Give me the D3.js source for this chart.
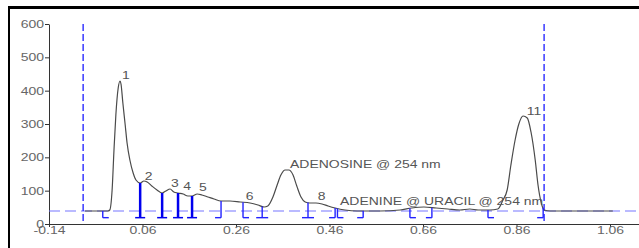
<!DOCTYPE html>
<html>
<head>
<meta charset="utf-8">
<script src="https://cdn.jsdelivr.net/npm/d3@7"></script>
<style>
  body { margin: 0; background: #fff; }
  svg { display: block; font-family: "Liberation Sans", Arial, sans-serif; }
</style>
</head>
<body>
<div id="graph"></div>
<script>
// chromatogram trace (time, signal)
const traceTime = [-0.063, -0.014, -0.010, -0.005, -0.001, 0.003, 0.008, 0.012, 0.014, 0.018,
  0.023, 0.027, 0.033, 0.040, 0.046, 0.055, 0.063, 0.070, 0.080, 0.091,
  0.102, 0.110, 0.119, 0.127, 0.136, 0.147, 0.157, 0.166, 0.177, 0.187,
  0.200, 0.213, 0.228, 0.247, 0.269, 0.290, 0.307, 0.320, 0.328, 0.339,
  0.348, 0.356, 0.365, 0.373, 0.382, 0.390, 0.399, 0.408, 0.418, 0.431,
  0.444, 0.457, 0.472, 0.493, 0.519, 0.568, 0.611, 0.636, 0.662, 0.688,
  0.713, 0.739, 0.760, 0.778, 0.803, 0.820, 0.831, 0.840, 0.848, 0.857,
  0.865, 0.874, 0.883, 0.891, 0.900, 0.906, 0.913, 0.919, 0.932, 1.066];
const traceSignal = [39, 39, 42, 102, 222, 327, 408, 429, 420, 363,
  297, 243, 192, 153, 132, 123, 129, 126, 114, 102,
  93, 99, 105, 96, 93, 90, 84, 84, 90, 87,
  81, 75, 69, 69, 66, 63, 57, 51, 54, 81,
  117, 147, 162, 162, 147, 114, 81, 66, 63, 63,
  60, 54, 48, 42, 39, 39, 42, 48, 51, 48,
  45, 42, 45, 42, 42, 45, 72, 102, 177, 252,
  300, 324, 318, 276, 192, 117, 63, 42, 39, 39];

const xTicks = [-0.14, 0.06, 0.26, 0.46, 0.66, 0.86, 1.06];
const xTickLabels = ["-0.14", "0.06", "0.26", "0.46", "0.66", "0.86", "1.06"];
const yTicks = [0, 100, 200, 300, 400, 500, 600];

// integration window and baseline
const windowTimes = [-0.067, 0.919];
const baselineLevel = 39;
const markFloor = 19;

// integration marks: valley drops and peak start/end
const dropTimes = [0.055, 0.102, 0.136, 0.166];
const markTimes = [-0.025, 0.228, 0.275, 0.316, 0.414, 0.472, 0.477, 0.532, 0.632, 0.679, 0.799, 0.917];
const markTypes = ["start", "end", "start", "both", "both", "end", "start", "end", "start", "end", "start", "end"];

// peak labels
const peakLabels = ["1", "2", "3", "4", "5", "6", "8", "11", "ADENOSINE @ 254 nm", "ADENINE @ URACIL @ 254 nm"];
const peakLabelTimes = [0.016, 0.065, 0.121, 0.147, 0.181, 0.281, 0.435, 0.882, 0.3755, 0.4825];
const peakLabelValues = [435, 133, 111, 102, 100, 72, 72, 327, 168, 57];

const W = 639, H = 248;
const stretch = 1.27;

const svg = d3.select("#graph")
  .append("svg")
    .attr("width", W)
    .attr("height", H);

// frame
svg.append("line").attr("x1", 8).attr("x2", W).attr("y1", 7.5).attr("y2", 7.5)
  .attr("stroke", "#000").attr("stroke-width", 3);
svg.append("line").attr("x1", 9).attr("x2", 9).attr("y1", 6).attr("y2", H)
  .attr("stroke", "#000").attr("stroke-width", 2);

const x = d3.scaleLinear().domain([-0.14, 1.122]).range([49, 639]);
const y = d3.scaleLinear().domain([0, 600]).range([224, 24]);

// axes
const yAxis = svg.append("g")
  .attr("transform", "translate(49,0)")
  .call(d3.axisLeft(y).tickValues(yTicks).tickSize(4).tickSizeOuter(0));
yAxis.selectAll("text")
  .attr("x", -5 / stretch)
  .attr("transform", `scale(${stretch},1)`);

const xAxis = svg.append("g")
  .attr("transform", "translate(0,224)")
  .call(d3.axisBottom(x).tickValues(xTicks).tickFormat((d, i) => xTickLabels[i])
    .tickSize(3).tickSizeOuter(0));
xAxis.selectAll("text")
  .attr("y", 2)
  .attr("transform", `scale(${stretch},1)`);

[yAxis, xAxis].forEach(a => {
  a.selectAll("path, line").attr("stroke", "#333");
  a.selectAll("text").attr("fill", "#666").attr("font-size", 11)
    .attr("font-family", "Liberation Sans, Arial, sans-serif");
});

// baseline dashed
svg.append("line")
  .attr("x1", x.range()[0]).attr("x2", x.range()[1])
  .attr("y1", y(baselineLevel)).attr("y2", y(baselineLevel))
  .attr("stroke", "#7676ff").attr("stroke-width", 1.2)
  .attr("stroke-dasharray", "11,5");

// integration window
svg.selectAll(".win")
  .data(windowTimes)
  .enter().append("line")
    .attr("x1", d => x(d)).attr("x2", d => x(d))
    .attr("y1", y(600)).attr("y2", y(0))
    .attr("stroke", "#1c1cff").attr("stroke-width", 1.3)
    .attr("stroke-dasharray", "7,3");

// trace
const trace = traceTime.map((t, i) => ({t, v: traceSignal[i]}));
const line = d3.line()
  .x(d => x(d.t))
  .y(d => y(d.v))
  .curve(d3.curveMonotoneX);

svg.append("path")
  .datum(trace)
  .attr("fill", "none")
  .attr("stroke", "#4a4a4a")
  .attr("stroke-width", 1.2)
  .attr("d", line);

function signalAt(t){
  const i = d3.bisector(d => d.t).left(trace, t);
  if (i <= 0) return trace[0].v;
  if (i >= trace.length) return trace[trace.length - 1].v;
  const a = trace[i - 1], b = trace[i];
  return a.v + (b.v - a.v) * (t - a.t) / (b.t - a.t);
}

// valley drop lines
const drops = svg.append("g").attr("stroke", "#0000ee").attr("stroke-width", 2.5);
dropTimes.forEach(t => {
  drops.append("line")
    .attr("x1", x(t)).attr("x2", x(t))
    .attr("y1", y(signalAt(t))).attr("y2", y(markFloor));
  drops.append("line")
    .attr("stroke-width", 1.5)
    .attr("x1", x(t) - 5).attr("x2", x(t) + 5)
    .attr("y1", y(markFloor)).attr("y2", y(markFloor));
});

// start / end marks
const marks = svg.append("g").attr("stroke", "#2323ff").attr("stroke-width", 1.4);
markTimes.forEach((t, i) => {
  const type = markTypes[i];
  const top = Math.min(signalAt(t), baselineLevel);
  marks.append("line")
    .attr("x1", x(t)).attr("x2", x(t))
    .attr("y1", y(Math.max(signalAt(t), baselineLevel))).attr("y2", y(markFloor));
  const left = type === "start" ? x(t) : x(t) - 6;
  const right = type === "end" ? x(t) : x(t) + 6;
  marks.append("line")
    .attr("x1", left).attr("x2", right)
    .attr("y1", y(markFloor)).attr("y2", y(markFloor));
});

// labels
svg.selectAll(".lbl")
  .data(peakLabels)
  .enter().append("text")
    .attr("transform", (d, i) => `translate(${x(peakLabelTimes[i])},${y(peakLabelValues[i])}) scale(${stretch},1)`)
    .attr("fill", "#555")
    .attr("font-size", 11)
    .text(d => d);
</script>
</body>
</html>
